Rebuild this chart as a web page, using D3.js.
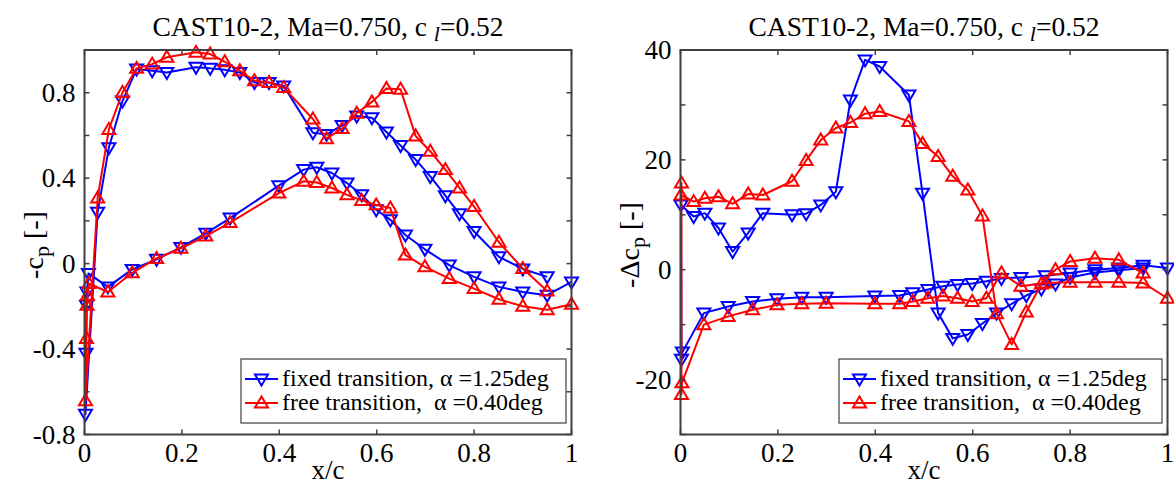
<!DOCTYPE html>
<html><head><meta charset="utf-8">
<script src="https://cdn.jsdelivr.net/npm/d3@7"></script>
<style>body{margin:0;background:#fff}svg{display:block}text{font-family:"Liberation Serif","Times New Roman",serif;fill:#000}</style>
</head><body><svg id="c" width="1174" height="486" font-family="Liberation Serif, Times New Roman, serif"></svg>
<script>
// ---------- data ----------
const xUpper = [0.95,0.9,0.851,0.8,0.77,0.741,0.71,0.68,0.649,0.62,0.59,0.559,0.529,0.497,0.469,0.409,0.379,0.349,0.319,0.288,0.258,0.229,0.169,0.139,0.107,0.078,0.05,0.027];
const xLower = [0.048,0.098,0.148,0.198,0.249,0.299,0.399,0.45,0.477,0.508,0.539,0.569,0.599,0.628,0.659,0.699,0.749,0.8,0.851,0.9,0.95,1.0];

// left panel: -cp
const cpFixedUpper = [-0.062,-0.025,0.032,0.150,0.233,0.318,0.408,0.487,0.553,0.616,0.683,0.691,0.647,0.605,0.613,0.832,0.848,0.848,0.895,0.907,0.914,0.919,0.895,0.903,0.911,0.761,0.542,0.240];
const cpFixedLEx = [0.002,0.003,0.004,0.005,0.008];
const cpFixedLE = [-0.705,-0.42,-0.195,-0.133,-0.046];
const cpFixedLower = [-0.109,-0.027,0.02,0.076,0.142,0.213,0.365,0.44,0.451,0.424,0.377,0.322,0.252,0.205,0.134,0.067,-0.007,-0.062,-0.109,-0.133,-0.148,-0.086];

const cpFreeUpper = [-0.128,-0.023,0.100,0.267,0.354,0.440,0.526,0.597,0.816,0.820,0.757,0.704,0.632,0.585,0.677,0.824,0.848,0.856,0.903,0.945,0.981,0.989,0.966,0.934,0.914,0.801,0.628,0.307];
const cpFreeLEx = [0.002,0.004,0.005,0.006,0.009];
const cpFreeLE = [-0.642,-0.35,-0.195,-0.148,-0.093];
const cpFreeLower = [-0.133,-0.043,0.024,0.072,0.129,0.192,0.33,0.385,0.38,0.354,0.322,0.296,0.275,0.26,0.04,-0.015,-0.07,-0.117,-0.167,-0.2,-0.216,-0.19];

// right panel: -delta cp
const dFixedUpper = [0.3,-0.1,-0.5,-1.4,-2.6,-3.5,-4.7,-6.2,-7.9,-9.8,-11.8,-12.5,-7.9,13.9,31.8,37.0,38.2,30.9,14.2,11.8,10.2,10.0,10.3,6.7,3.3,7.6,10.3,9.7];
const dFixedLEx = [0.001,0.002,0.004];
const dFixedLE = [11.8,-16.3,-15.0];
const dFixedLower = [-7.9,-6.7,-5.8,-5.3,-5.0,-5.0,-4.8,-4.7,-4.2,-3.6,-3.0,-2.7,-2.5,-2.1,-1.6,-1.4,-1.1,-0.6,0.0,0.3,0.8,0.3];

const dFreeUpper = [-0.6,1.8,2.1,1.5,0.0,-2.6,-7.7,-13.6,-8.0,9.8,14.5,17.0,20.6,23.0,27.0,28.8,28.4,26.8,25.8,23.6,19.9,16.1,13.6,13.8,12.0,13.3,13.0,12.4];
const dFreeLEx = [0.001,0.002,0.002,0.003];
const dFreeLE = [13.6,15.8,-22.7,-20.6];
const dFreeLower = [-10.0,-8.5,-7.3,-6.4,-6.2,-6.1,-6.2,-6.2,-5.8,-5.2,-4.8,-5.2,-5.8,-5.2,-0.6,-3.0,-2.4,-2.3,-2.3,-2.3,-2.4,-5.2];

const xTicks = [0,0.2,0.4,0.6,0.8,1];
const xTickLabels = ["0","0.2","0.4","0.6","0.8","1"];
const leftYTicks = [-0.8,-0.6,-0.4,-0.2,0,0.2,0.4,0.6,0.8,1.0];
const leftYLabels = {"-0.8":"-0.8","-0.4":"-0.4","0":"0","0.4":"0.4","0.8":"0.8"};
const rightYTicks = [-30,-20,-10,0,10,20,30,40];
const rightYLabels = {"-20":"-20","0":"0","20":"20","40":"40"};

const legendLabels = ["fixed transition, \u03B1 =1.25deg", "free transition,  \u03B1 =0.40deg"];

// ---------- drawing ----------
const svg = d3.select("#c");
const BLUE = "#0000ff", RED = "#ff0000", AX = "#404040";
const FS = 27;

function build(up, lex, le, low){
  const pts = [];
  xUpper.forEach((x,i)=>pts.push([x, up[i]]));
  lex.forEach((x,i)=>pts.push([x, le[i]]));
  xLower.forEach((x,i)=>pts.push([x, low[i]]));
  return pts;
}

const triDown = "M-6.5,-4.5L6.5,-4.5L0,6.5Z";
const triUp = "M-6.5,4.5L6.5,4.5L0,-6.5Z";

function panel(cfg){
  const x = d3.scaleLinear().domain([0,1]).range([cfg.x0, cfg.x1]);
  const y = d3.scaleLinear().domain(cfg.ydom).range([434.5, 50]);
  const g = svg.append("g");

  cfg.series.forEach(s=>{
    g.append("path").datum(s.pts)
      .attr("d", d3.line().x(d=>x(d[0])).y(d=>y(d[1])))
      .attr("fill","none").attr("stroke",s.color).attr("stroke-width",2).attr("stroke-linejoin","round");
    g.selectAll(null).data(s.pts).enter().append("path")
      .attr("d", s.marker).attr("transform", d=>`translate(${x(d[0])},${y(d[1])})`)
      .attr("fill","none").attr("stroke",s.color).attr("stroke-width",2);
  });

  g.append("rect").attr("x",cfg.x0).attr("y",50).attr("width",cfg.x1-cfg.x0).attr("height",384.5)
    .attr("fill","none").attr("stroke",AX).attr("stroke-width",2);

  const tl = 5;
  xTicks.forEach((t,i)=>{
    const px = x(t);
    g.append("line").attr("x1",px).attr("x2",px).attr("y1",434.5).attr("y2",434.5-tl).attr("stroke",AX).attr("stroke-width",1.5);
    g.append("line").attr("x1",px).attr("x2",px).attr("y1",50).attr("y2",50+tl).attr("stroke",AX).attr("stroke-width",1.5);
    g.append("text").attr("x",px).attr("y",462).attr("text-anchor","middle").attr("font-size",FS).text(xTickLabels[i]);
  });
  cfg.yticks.forEach(t=>{
    const py = y(t);
    g.append("line").attr("x1",cfg.x0).attr("x2",cfg.x0+tl).attr("y1",py).attr("y2",py).attr("stroke",AX).attr("stroke-width",1.5);
    g.append("line").attr("x1",cfg.x1).attr("x2",cfg.x1-tl).attr("y1",py).attr("y2",py).attr("stroke",AX).attr("stroke-width",1.5);
    const lab = cfg.ylabels[String(+t.toFixed(2))];
    if(lab!==undefined) g.append("text").attr("x",cfg.x0-9).attr("y",py+9).attr("text-anchor","end").attr("font-size",FS).text(lab);
  });

  const cx = (cfg.x0+cfg.x1)/2;
  g.append("text").attr("x",cx).attr("y",479).attr("text-anchor","middle").attr("font-size",FS).text("x/c");
  const tt = g.append("text").attr("x",cx).attr("y",36).attr("text-anchor","middle").attr("font-size",27.5);
  tt.append("tspan").text("CAST10-2, Ma=0.750, c ");
  tt.append("tspan").attr("font-style","italic").attr("dy",5).attr("font-size",22).text("l");
  tt.append("tspan").attr("dy",-5).text("=0.52");

  const yl = g.append("text").attr("transform",`translate(${cfg.ylx},${245}) rotate(-90)`).attr("text-anchor","middle").attr("font-size",28);
  yl.append("tspan").text(cfg.ylab);
  yl.append("tspan").attr("dy",6).attr("font-size",22).text("p");
  yl.append("tspan").attr("dy",-6).text(" [-]");

  const lx = cfg.legX, ly = 359, lw = cfg.legW, lh = 64;
  g.append("rect").attr("x",lx).attr("y",ly).attr("width",lw).attr("height",lh).attr("fill","#fff").attr("stroke",AX).attr("stroke-width",1.2);
  cfg.series.forEach((s,i)=>{
    const ry = ly + 20 + i*24;
    g.append("line").attr("x1",lx+4).attr("x2",lx+37).attr("y1",ry).attr("y2",ry).attr("stroke",s.color).attr("stroke-width",2);
    g.append("path").attr("d",s.marker).attr("transform",`translate(${lx+20.5},${ry})`).attr("fill","none").attr("stroke",s.color).attr("stroke-width",2);
    g.append("text").attr("x",lx+41).attr("y",ry+7).attr("font-size",24).attr("xml:space","preserve").style("white-space","pre").text(legendLabels[i]);
  });
}

panel({
  x0:84.5, x1:571.5, ydom:[-0.8,1.0], yticks:leftYTicks, ylabels:leftYLabels,
  ylab:"-c", ylx:43, legX:241, legW:325,
  series:[
    {pts:build(cpFixedUpper,cpFixedLEx,cpFixedLE,cpFixedLower), color:BLUE, marker:triDown},
    {pts:build(cpFreeUpper,cpFreeLEx,cpFreeLE,cpFreeLower), color:RED, marker:triUp}
  ]
});
panel({
  x0:680.5, x1:1167.5, ydom:[-30,40], yticks:rightYTicks, ylabels:rightYLabels,
  ylab:"-\u0394c", ylx:639, legX:839, legW:323,
  series:[
    {pts:build(dFixedUpper,dFixedLEx,dFixedLE,dFixedLower), color:BLUE, marker:triDown},
    {pts:build(dFreeUpper,dFreeLEx,dFreeLE,dFreeLower), color:RED, marker:triUp}
  ]
});
</script></body></html>
